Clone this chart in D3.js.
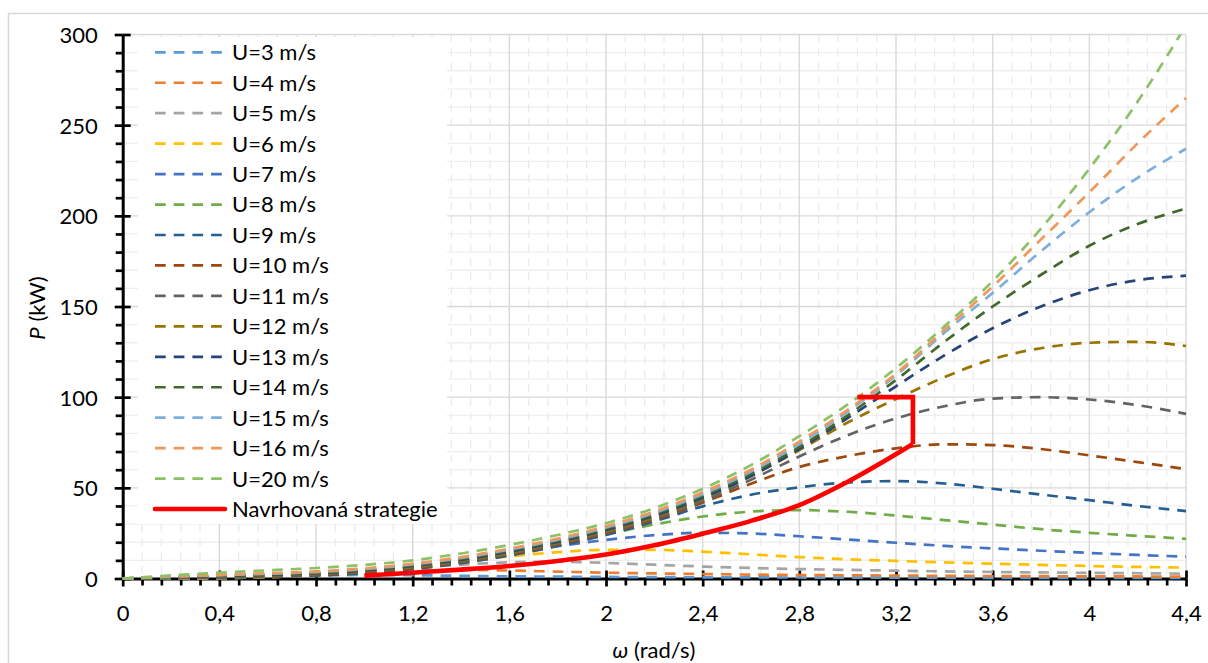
<!DOCTYPE html>
<html><head><meta charset="utf-8">
<script src="https://cdn.jsdelivr.net/npm/d3@7"></script>
<style>
html,body{margin:0;padding:0;background:#fff;}
svg{display:block;font-family:Lato,"Open Sans",sans-serif;}
</style></head><body>
<svg id="chart" width="1208" height="663"></svg>
<script>
// ---------- data ----------
const omega = [0,0.2,0.4,0.6,0.8,1,1.2,1.4,1.6,1.8,2,2.2,2.4,2.6,2.8,3,3.2,3.4,3.6,3.8,4,4.2,4.4];
const seriesLabels = ["U=3 m/s","U=4 m/s","U=5 m/s","U=6 m/s","U=7 m/s","U=8 m/s","U=9 m/s","U=10 m/s","U=11 m/s","U=12 m/s","U=13 m/s","U=14 m/s","U=15 m/s","U=16 m/s","U=20 m/s"];
const pU3  = [0,0.04,0.22,0.75,1.5,1.98,1.82,1.47,1.2,1.0,0.86,0.75,0.67,0.6,0.54,0.5,0.46,0.42,0.39,0.36,0.33,0.31,0.29];
const pU4  = [0,0.06,0.24,0.75,1.8,3.2,4.3,4.8,4.4,3.8,3.2,2.8,2.45,2.15,1.9,1.75,1.6,1.47,1.37,1.28,1.2,1.12,1.05];
const pU5  = [0,0.09,0.28,0.75,1.8,3.5,5.8,7.6,8.9,9.3,8.6,7.6,6.6,5.8,5.2,4.75,4.3,3.9,3.6,3.35,3.1,2.9,2.7];
const pU6  = [0,0.13,0.33,0.8,1.75,3.4,6.0,9.3,12.2,14.5,15.8,15.8,14.8,13.3,11.8,10.6,9.7,8.9,8.2,7.5,6.9,6.4,6.0];
const pU7  = [0,0.18,0.38,0.85,1.7,3.2,5.6,9.0,13.5,17.8,21.3,23.9,25.2,24.8,23.3,21.5,19.7,18.0,16.6,15.3,14.1,13.0,12.0];
const pU8  = [0,0.24,0.47,0.95,1.7,3.0,5.3,8.5,12.8,18.2,24.3,29.8,34.2,36.9,37.7,36.8,34.7,32.2,29.7,27.2,25.2,23.5,21.9];
const pU9  = [0,0.33,0.62,1.0,1.75,3.0,5.2,8.5,12.7,17.9,24.0,31.5,39.8,46.2,50.3,53.0,53.7,52.4,49.5,46.3,43.2,40.0,37.2];
const pU10 = [0,0.42,0.8,1.22,2.0,3.4,5.7,9.0,13.3,18.6,24.9,32.5,41.8,52.3,61.5,67.5,71.8,74.0,73.6,71.4,67.9,64.2,60.3];
const pU11 = [0,0.52,0.95,1.45,2.3,3.8,6.1,9.4,13.8,19.2,25.6,33.3,42.8,54.5,67.3,79,88.3,95,99.2,100,98.7,95.6,90.8];
const pU12 = [0,0.62,1.15,1.7,2.6,4.1,6.5,9.8,14.3,19.7,26.2,34,44,56.5,70.8,86,99,111,121,127,130,130.5,128.2];
const pU13 = [0,0.72,1.38,2.0,2.9,4.4,6.9,10.3,14.8,20.2,26.8,34.6,44.5,56.5,71.5,88.5,106,123,138,150,159,164.5,167];
const pU14 = [0,0.85,1.6,2.3,3.2,4.8,7.3,10.8,15.4,20.8,27.4,35.4,45.5,57.8,72.5,90,109.5,130.5,150,167.5,183.5,195.5,204];
const pU15 = [0,0.95,1.8,2.6,3.5,5.2,7.8,11.3,16,21.4,28.1,36.2,46.5,59,74.3,92,112,135.5,157.5,180.5,202,221,237];
const pU16 = [0,1.1,2.0,2.9,3.9,5.6,8.2,11.8,16.5,22,28.8,37,47.5,60,75.5,93,113,137,161,187,213,240,265];
const pU20 = [0,1.7,3.2,4.5,5.8,7.5,10,13.8,18.5,24,30.5,38.8,49.5,62.5,78.5,96,116,139,164,193,226,263,305];
const strategyLabel = "Navrhovaná strategie";
const strategyOmega = [1.0,1.2,1.4,1.6,1.8,2.0,2.2,2.4,2.6,2.8,3.0,3.27];
const strategyP     = [1.6,3.2,4.9,6.9,9.7,13.2,18.3,24.7,31.8,40.5,53.4,74.2];
const strategyStepOmega = [3.27,3.27,3.04];
const strategyStepP     = [74.2,100,100];
const xTickValues = [0,0.4,0.8,1.2,1.6,2,2.4,2.8,3.2,3.6,4,4.4];
const xTickLabels = ["0","0,4","0,8","1,2","1,6","2","2,4","2,8","3,2","3,6","4","4,4"];
const yTickValues = [0,50,100,150,200,250,300];

// ---------- styles ----------
const seriesData = [pU3,pU4,pU5,pU6,pU7,pU8,pU9,pU10,pU11,pU12,pU13,pU14,pU15,pU16,pU20];
const seriesColors = ["#5B9BD5","#ED7D31","#A5A5A5","#FFC000","#4472C4","#70AD47","#255E91","#9E480E","#636363","#997300","#264478","#43682B","#7CAFDD","#F1975A","#8CC168"];
const dash = "10.7,8";

const svg = d3.select("#chart");
const L = 122.7, R = 1186, T = 34.5, B = 578.5;
const x = d3.scaleLinear().domain([0,4.4]).range([L,R]);
const y = d3.scaleLinear().domain([0,300]).range([B,T]);

// outer chart border
svg.append("rect").attr("x",8.5).attr("y",13.5).attr("width",1260).attr("height",700)
  .attr("fill","#fff").attr("stroke","#d9d9d9").attr("stroke-width",1.5);

// gridlines
const grid = svg.append("g");
const yMinor = d3.range(0,31).map(i=>i*10).filter(v=>v%50!==0);
const xMinor = d3.range(0,56).map(i=>+(i*0.08).toFixed(2)).filter(v=>Math.abs(v/0.4-Math.round(v/0.4))>1e-6);
grid.selectAll(".ymin").data(yMinor).join("line")
  .attr("x1",L).attr("x2",R).attr("y1",d=>y(d)).attr("y2",d=>y(d))
  .attr("stroke","#efefef").attr("stroke-width",1.3);
grid.selectAll(".xmin").data(xMinor).join("line")
  .attr("x1",d=>x(d)).attr("x2",d=>x(d)).attr("y1",T).attr("y2",B)
  .attr("stroke","#ebebeb").attr("stroke-width",1.3).attr("stroke-dasharray","7.5,6.5");
grid.selectAll(".ymaj").data(yTickValues.filter(v=>v>0)).join("line")
  .attr("x1",L).attr("x2",R).attr("y1",d=>y(d)).attr("y2",d=>y(d))
  .attr("stroke","#d9d9d9").attr("stroke-width",1.4);
grid.selectAll(".xmaj").data(xTickValues.filter(v=>v>0)).join("line")
  .attr("x1",d=>x(d)).attr("x2",d=>x(d)).attr("y1",T).attr("y2",B)
  .attr("stroke","#d9d9d9").attr("stroke-width",1.4);

// axes
const fmtX = d => xTickLabels[xTickValues.indexOf(d)];
function styleAxis(g){
  g.select(".domain").attr("stroke","#000").attr("stroke-width",3);
  g.selectAll(".tick line").attr("stroke","#000").attr("stroke-width",2.7);
  g.selectAll("text").attr("fill","#000").style("font-size","22px").style("font-family","Lato, 'Open Sans', sans-serif");
}
// y minor ticks (outside)
svg.append("g").attr("transform",`translate(${L},0)`)
  .call(d3.axisLeft(y).tickValues(yMinor).tickSize(7).tickFormat(""))
  .call(g=>{g.select(".domain").remove(); g.selectAll(".tick line").attr("stroke","#000").attr("stroke-width",2.7);});
// x minor ticks (outside)
svg.append("g").attr("transform",`translate(0,${B})`)
  .call(d3.axisBottom(x).tickValues(xMinor).tickSize(7).tickFormat(""))
  .call(g=>{g.select(".domain").remove(); g.selectAll(".tick line").attr("stroke","#000").attr("stroke-width",2.7);});
// inner halves of major ticks
svg.append("g").attr("transform",`translate(${L},0)`)
  .call(d3.axisRight(y).tickValues(yTickValues).tickSize(8).tickFormat(""))
  .call(g=>{g.select(".domain").remove(); g.selectAll(".tick line").attr("stroke","#000").attr("stroke-width",2.7);});
svg.append("g").attr("transform",`translate(0,${B})`)
  .call(d3.axisTop(x).tickValues(xTickValues).tickSize(8).tickFormat(""))
  .call(g=>{g.select(".domain").remove(); g.selectAll(".tick line").attr("stroke","#000").attr("stroke-width",2.7);});
// main axes with labels
svg.append("g").attr("transform",`translate(${L},0)`)
  .call(d3.axisLeft(y).tickValues(yTickValues).tickSize(8).tickSizeOuter(0).tickPadding(17))
  .call(styleAxis)
  .call(g=>g.selectAll("text").attr("dy","0.36em"));
svg.append("g").attr("transform",`translate(0,${B})`)
  .call(d3.axisBottom(x).tickValues(xTickValues).tickFormat(fmtX).tickSize(8).tickSizeOuter(0).tickPadding(19))
  .call(styleAxis);

// clip
svg.append("clipPath").attr("id","plotclip").append("rect")
  .attr("x",L-3).attr("y",T).attr("width",R-L+6).attr("height",B-T+3);

// series
const line = d3.line().x((d,i)=>x(omega[i])).y(d=>y(d)).curve(d3.curveMonotoneX);
const series = svg.append("g").attr("clip-path","url(#plotclip)");
seriesData.forEach((arr,k)=>{
  series.append("path").attr("d",line(arr)).attr("fill","none")
    .attr("stroke",seriesColors[k]).attr("stroke-width",2.7)
    .attr("stroke-dasharray",dash);
});
// strategy line
const sLine = d3.line().x(d=>x(d[0])).y(d=>y(d[1])).curve(d3.curveMonotoneX);
const stepLine = d3.line().x(d=>x(d[0])).y(d=>y(d[1]));
series.append("path").attr("d",sLine(strategyOmega.map((w,i)=>[w,strategyP[i]])))
  .attr("fill","none").attr("stroke","#FF0000").attr("stroke-width",4.6).attr("stroke-linejoin","round");
series.append("path").attr("d",stepLine(strategyStepOmega.map((w,i)=>[w,strategyStepP[i]])))
  .attr("fill","none").attr("stroke","#FF0000").attr("stroke-width",4.6).attr("stroke-linejoin","miter");

// legend
const lg = svg.append("g");
lg.append("rect").attr("x",138).attr("y",37).attr("width",309).attr("height",487).attr("fill","#fff");
const rowY = i => 52.3 + 30.45*i;
seriesLabels.forEach((lab,i)=>{
  lg.append("line").attr("x1",155).attr("x2",222).attr("y1",rowY(i)).attr("y2",rowY(i))
    .attr("stroke",seriesColors[i]).attr("stroke-width",2.7).attr("stroke-dasharray",dash);
  lg.append("text").attr("x",232).attr("y",rowY(i)).attr("dy","0.36em")
    .style("font-size","22px").attr("fill","#000").text(lab);
});
lg.append("line").attr("x1",155).attr("x2",225).attr("y1",rowY(15)).attr("y2",rowY(15))
  .attr("stroke","#FF0000").attr("stroke-width",4.6).attr("stroke-linecap","round");
lg.append("text").attr("x",232).attr("y",rowY(15)).attr("dy","0.36em")
  .style("font-size","22px").attr("fill","#000").text(strategyLabel);

// axis titles
const xt = svg.append("text").attr("x",654).attr("y",658).attr("text-anchor","middle")
  .style("font-size","22px").attr("fill","#000");
xt.append("tspan").style("font-style","italic").text("ω");
xt.append("tspan").text(" (rad/s)");
const yt = svg.append("text").attr("transform","translate(45,308) rotate(-90)").attr("text-anchor","middle")
  .style("font-size","22px").attr("fill","#000");
yt.append("tspan").style("font-style","italic").text("P");
yt.append("tspan").text(" (kW)");
</script>
</body></html>
